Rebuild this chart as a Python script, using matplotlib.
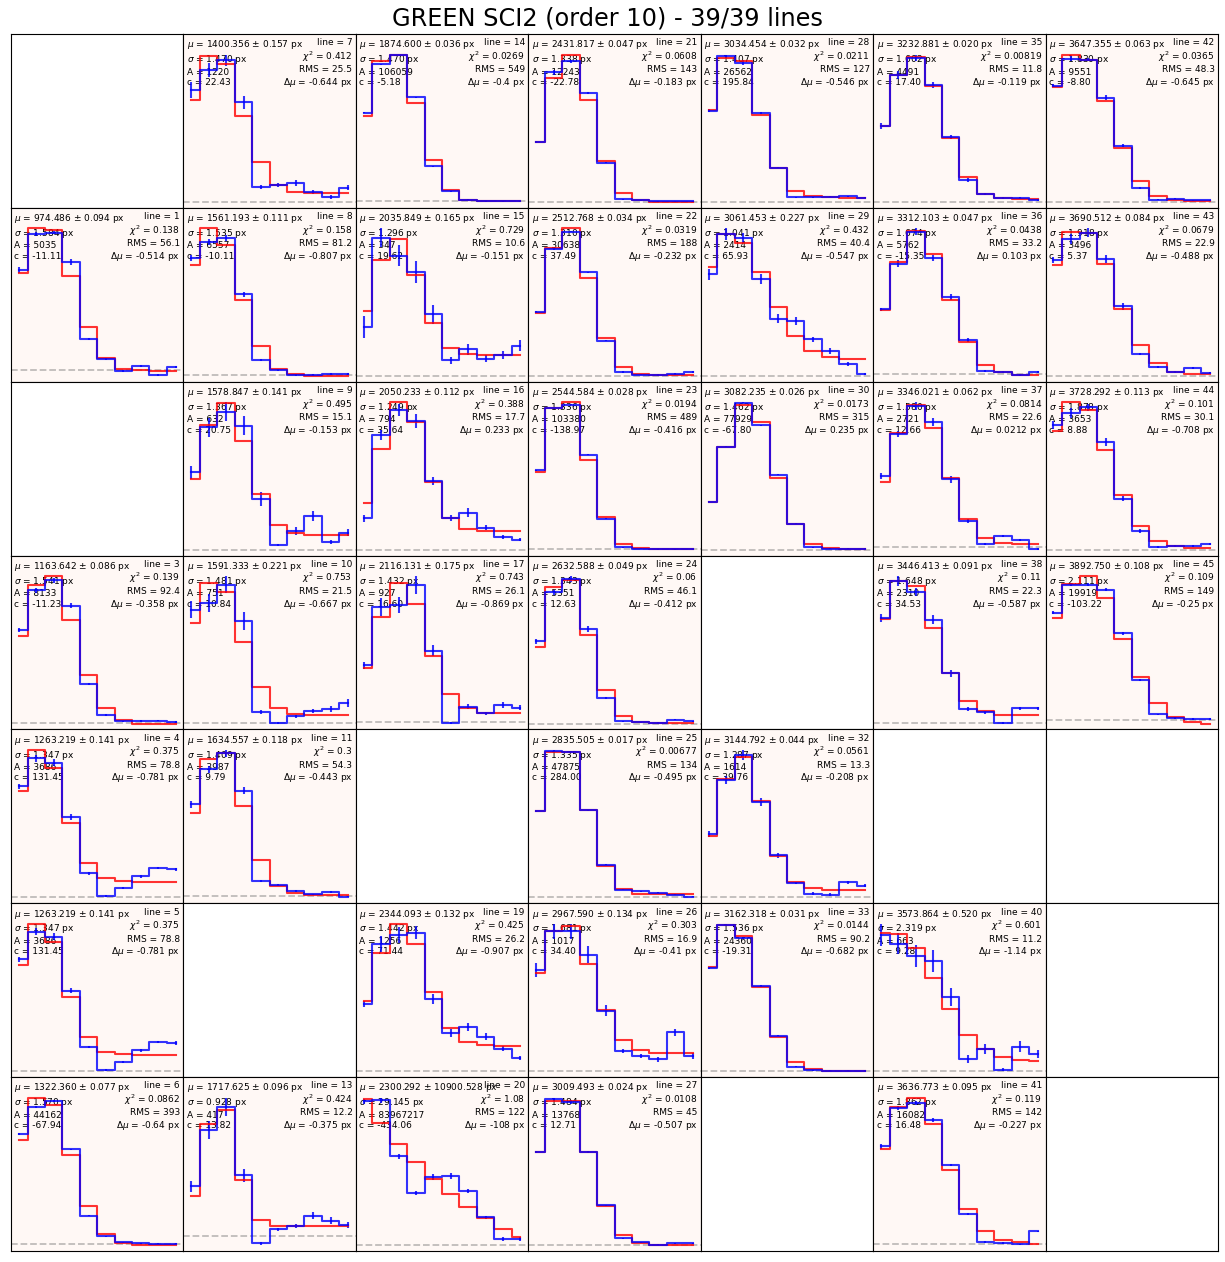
import numpy as np
import matplotlib
matplotlib.use("Agg")
import matplotlib.pyplot as plt

TITLE = "GREEN SCI2 (order 10) - 39/39 lines"
N_GRID = 7

# fitted lines, panel slot = line number (row = n % 7, col = n // 7)
line_ids = [1, 3, 4, 5, 6, 7, 8, 9, 10, 11, 13, 14, 15, 16, 17, 19, 20,
            21, 22, 23, 24, 25, 26, 27, 28, 29, 30, 32, 33, 35, 36, 37, 38,
            40, 41, 42, 43, 44, 45]

mu = [974.486, 1163.642, 1263.219, 1263.219, 1322.360, 1400.356, 1561.193,
      1578.847, 1591.333, 1634.557, 1717.625, 1874.600, 2035.849, 2050.233,
      2116.131, 2344.093, 2300.292, 2431.817, 2512.768, 2544.584, 2632.588,
      2835.505, 2967.590, 3009.493, 3034.454, 3061.453, 3082.235, 3144.792,
      3162.318, 3232.881, 3312.103, 3346.021, 3446.413, 3573.864, 3636.773,
      3647.355, 3690.512, 3728.292, 3892.750]
mu_err = [0.094, 0.086, 0.141, 0.141, 0.077, 0.157, 0.111, 0.141, 0.221, 0.118,
          0.096, 0.036, 0.165, 0.112, 0.175, 0.132, 10900.528, 0.047, 0.034,
          0.028, 0.049, 0.017, 0.134, 0.024, 0.032, 0.227, 0.026, 0.044, 0.031,
          0.020, 0.047, 0.062, 0.091, 0.520, 0.095, 0.063, 0.084, 0.113, 0.108]
sigma = [1.584, 1.541, 1.347, 1.347, 1.570, 1.470, 1.535, 1.367, 1.481, 1.409,
         0.928, 1.470, 1.296, 1.249, 1.432, 1.442, 29.145, 1.338, 1.310, 1.336,
         1.343, 1.335, 1.681, 1.484, 1.407, 1.041, 1.462, 1.287, 1.536, 1.602,
         1.674, 1.580, 1.648, 2.319, 1.862, 1.830, 1.918, 1.878, 2.111]
amp = [5035, 8133, 3686, 3686, 44162, 1220, 6557, 632, 751, 3987, 417, 106059,
       347, 794, 927, 1256, 83967217, 12243, 30638, 103380, 5351, 47875, 1017,
       13768, 26562, 2414, 77929, 1614, 24360, 4491, 5762, 2721, 2310, 663,
       16082, 9551, 3496, 3653, 19919]
cont = [-11.11, -11.23, 131.45, 131.45, -67.94, 22.43, -10.11, 20.75, 10.84,
        9.79, 13.82, -5.18, 19.62, 35.64, 16.60, 71.44, -434.06, -22.78, 37.49,
        -138.97, 12.63, 284.00, 34.40, 12.71, 195.84, 65.93, -67.80, 39.76,
        -19.31, 17.40, -15.35, 12.66, 34.53, 9.28, 16.48, -8.80, 5.37, 8.88,
        -103.22]
chi2 = [0.138, 0.139, 0.375, 0.375, 0.0862, 0.412, 0.158, 0.495, 0.753, 0.3,
        0.424, 0.0269, 0.729, 0.388, 0.743, 0.425, 1.08, 0.0608, 0.0319, 0.0194,
        0.06, 0.00677, 0.303, 0.0108, 0.0211, 0.432, 0.0173, 0.0561, 0.0144,
        0.00819, 0.0438, 0.0814, 0.11, 0.601, 0.119, 0.0365, 0.0679, 0.101, 0.109]
rms = [56.1, 92.4, 78.8, 78.8, 393, 25.5, 81.2, 15.1, 21.5, 54.3, 12.2, 549,
       10.6, 17.7, 26.1, 26.2, 122, 143, 188, 489, 46.1, 134, 16.9, 45, 127,
       40.4, 315, 13.3, 90.2, 11.8, 33.2, 22.6, 22.3, 11.2, 142, 48.3, 22.9,
       30.1, 149]
dmu = [-0.514, -0.358, -0.781, -0.781, -0.64, -0.644, -0.807, -0.153, -0.667,
       -0.443, -0.375, -0.4, -0.151, 0.233, -0.869, -0.907, -108, -0.183, -0.232,
       -0.416, -0.412, -0.495, -0.41, -0.507, -0.546, -0.547, 0.235, -0.208,
       -0.682, -0.119, 0.103, 0.0212, -0.587, -1.14, -0.227, -0.645, -0.488,
       -0.708, -0.25]

# extracted profile (blue), fitted model (red), flux errors -- 10 pixels each
flux = {
    1: [100, 135.7, 137.3, 108.3, 31.7, 11.7, -0.3, 4.3, -4.3, 3.3],
    3: [92, 131.7, 141.7, 116.3, 38.3, 7.3, 1.3, 1.7, 2, 0.7],
    4: [110.7, 138.3, 134, 80, 24, 1, 9, 21, 29.3, 28],
    5: [111.3, 139, 134, 80, 24, 0.7, 9, 20.7, 29, 28],
    6: [109, 135.7, 141.3, 93.7, 28, 7.3, 1.3, 0.7, 0, 0],
    7: [111, 131, 141, 99, 15, 17, 19, 10, 4.7, 14.3],
    8: [116, 131.7, 135.7, 80, 15, 5, 0.3, 0, 1, 1.3],
    9: [78.3, 124, 139.7, 125.7, 51.3, 5, 19, 34, 8, 17.3],
    10: [111.7, 118.3, 136.7, 100.7, 10.7, 0, 6, 11, 13.3, 19.3],
    11: [90, 124.3, 140, 103.3, 14.3, 11, 5, 1.7, 4, -0.7],
    13: [49, 105, 127.7, 60, -7.3, 6.7, 10, 20, 15, 11],
    14: [87.7, 135.7, 144.7, 103, 35, 10, 1.7, 0, 0, 0],
    15: [47.3, 134, 116.7, 100.7, 59.7, 15, 25.7, 16.7, 20, 29],
    16: [30.7, 113, 137.3, 126.7, 67.3, 31.3, 36.3, 21.7, 12.3, 10],
    17: [56.3, 114.7, 117.3, 137.3, 71.3, -1, 15, 8.3, 16.7, 14],
    19: [66.7, 126, 135, 137.3, 71.7, 37.7, 44.3, 34.3, 22.3, 13.3],
    20: [145.7, 146.7, 90, 53, 69, 70, 54.7, 28, 6.3, 6.3],
    21: [58.7, 127.7, 138.7, 107.7, 38.7, 2.7, 1.3, 0.3, 0.3, 0.3],
    22: [64, 126.7, 144, 103.3, 35.3, 4, 1.3, 0.7, 1.7, 4],
    23: [78, 139.3, 142.7, 93.7, 30.3, 2, 0.7, 0.3, 0.3, 0.3],
    24: [81.7, 130.7, 144, 94, 25, 2.3, 1.3, 0.7, 4, 2.3],
    25: [84.7, 145, 144, 85.7, 31.7, 7.3, 5.7, 4, 2.3, 0],
    26: [100, 138.3, 138.3, 115, 60, 20, 15, 11.7, 38.3, 15],
    27: [92, 144.3, 141.7, 92, 39.3, 6.7, 2.7, 0.3, 1.7, 1.7],
    28: [92.7, 148, 141.7, 90.7, 35, 5, 5, 5.3, 6, 4.3],
    29: [101.7, 141.7, 137.7, 97.3, 57.3, 55, 36.7, 25, 12.3, 1.7],
    30: [47.3, 101.7, 145, 123, 74, 25.7, 2.3, 0.7, 0.7, 0.7],
    32: [62.7, 116, 141, 94.3, 41.7, 14.3, 3.7, 2.7, 15, 11.7],
    33: [101.7, 144, 130.7, 84, 35, 4.3, 1, 0.7, 0.7, 0.7],
    35: [76, 126.7, 144.3, 117, 65, 22, 7.7, 4.3, 3.7, 2],
    36: [64, 109, 140.7, 114.7, 76.3, 33.3, 2.3, 1.3, -1, 1.3],
    37: [70.7, 112.3, 140, 124, 67.3, 25.7, 3.3, 10.7, 7.3, -1.7],
    38: [104.7, 141.3, 130.7, 103, 49.7, 14, 10.7, 0.7, 14.7, 14.7],
    40: [134, 125.7, 113.3, 108.3, 73.3, 12.3, 21.7, 1.7, 24.3, 16.7],
    41: [97, 134.7, 140.3, 123.7, 78.7, 30.3, 2, 1, -0.3, 12.7],
    42: [115, 141.7, 140.7, 103, 55.7, 14, 2.3, 3.3, 1.7, 1.7],
    43: [115, 136, 142.3, 116, 69, 21.7, 8.3, 4, 7.3, 2.7],
    44: [125, 137, 142.7, 107.7, 51, 18.7, 2.7, 3.7, 3.7, 6],
    45: [106.7, 134.3, 134.3, 129.3, 86, 40, 5.7, 2.3, 1, 1],
}
model = {
    1: [96.7, 141.3, 139.7, 94, 43, 12.3, 1.7, 0, -1, -1],
    3: [85.7, 137.3, 145.7, 101.7, 47.3, 14, 2.3, -1, -1, -1],
    4: [105.7, 146.7, 129, 74, 34, 19, 16.7, 15.7, 15.7, 15.7],
    5: [105.7, 146.7, 129, 74, 34, 19, 16.7, 15.7, 15.7, 15.7],
    6: [103, 144.7, 138, 88, 37, 9.7, 0.7, -1.3, -1.3, -1.3],
    7: [101, 145, 137, 85, 40, 17, 10, 9.3, 9.3, 9.3],
    8: [109, 145, 128.3, 74.3, 28.3, 5.7, 0.7, -0.7, -0.7, -0.7],
    9: [71.3, 126.3, 148.3, 110, 56.3, 25, 17.3, 15.3, 15.3, 15.3],
    10: [98.3, 138.3, 129.3, 80, 35, 14.3, 8.3, 7.3, 7.3, 7.3],
    11: [81, 135, 140, 88.3, 35.7, 10, 2.7, 1, 1, 1],
    13: [40, 111, 125, 55, 15.7, 10, 10, 10, 10, 10],
    14: [85, 139, 144.7, 97, 41.3, 11, 1.7, 0, 0, 0],
    15: [63, 112.3, 133, 98, 51.3, 27.3, 20.7, 20, 20, 20],
    16: [45.7, 99, 145, 125.7, 66.7, 30.7, 20, 18, 18, 18],
    17: [54, 105, 139, 118.3, 66.3, 28, 13.3, 9, 9, 9],
    19: [69.3, 117.3, 146, 126, 78.3, 43.3, 29.3, 26, 25.3, 25.3],
    20: [148, 124, 103, 84, 67.3, 52.3, 39, 27.3, 16.7, 8],
    21: [59.3, 122.7, 145.3, 100.3, 40.3, 8.7, 1.3, 0, 0, 0],
    22: [63, 127.3, 147.3, 98, 38, 9, 2, 0.7, 0.7, 0.7],
    23: [77, 139.3, 145.3, 88.7, 32, 5.3, 1, 0, 0, 0],
    24: [76.7, 135.7, 143, 88, 33.3, 8, 2, 0.7, 0.7, 0.7],
    25: [84.7, 144, 144, 85.7, 30.7, 8.3, 3.3, 3, 3, 3],
    26: [96.7, 139, 143.3, 106, 60.7, 31, 21, 18, 18, 18],
    27: [92, 142.7, 142.7, 92, 38.7, 10.3, 2, 0.3, 0.3, 0.3],
    28: [93.3, 146.7, 143.3, 88.3, 35, 11.3, 5.7, 5, 4.3, 4.3],
    29: [109, 142.3, 133.3, 104.3, 69, 40, 25, 19, 17.3, 17.3],
    30: [47.3, 101.7, 143, 125.7, 70.7, 25.7, 5.7, 1.3, 0.3, 0.3],
    32: [61, 117.7, 139.3, 96, 41, 15, 9, 7.7, 7.7, 7.7],
    33: [102.3, 144, 133.3, 82.7, 34, 9.3, 2.3, 0.7, 0, 0],
    35: [76, 126.7, 145, 116, 64.3, 25, 7.7, 4.3, 3.3, 2.7],
    36: [63.3, 110.7, 141.3, 119, 73.3, 31.7, 9, 1.3, -1, -1],
    37: [65, 113.3, 141.3, 118, 68.3, 28, 9, 4, 3, 3],
    38: [103.3, 141.3, 136.7, 94.7, 49.7, 21.7, 11.7, 8.3, 7.7, 7.7],
    40: [135.7, 135, 121, 91.7, 61.7, 36, 21.7, 14.3, 11, 10],
    41: [94.7, 136, 145.3, 119.3, 73.7, 34.7, 13, 3.7, 1.7, 0.3],
    42: [113.3, 145.7, 140.7, 99.7, 53, 20.7, 5.7, 2.3, 1.3, 0.7],
    43: [110, 142.7, 142.3, 111, 66, 31, 12.3, 4, 1.7, 1.7],
    44: [118.7, 147.7, 140.3, 100, 55, 23.7, 8.7, 3.7, 2, 1.7],
    45: [101.7, 135, 142.7, 120.7, 80.7, 42.7, 16.7, 3.3, -1.7, -3.3],
}
flux_err = {
    1: [3, 1.7, 1.7, 3, 1, 1, 1, 1, 1, 1],
    3: [1.7, 2.3, 2.7, 2.3, 1, 1, 0.7, 0.7, 0.7, 0.7],
    4: [2.7, 3.3, 3.3, 2.7, 1.3, 1, 1, 1.3, 1.3, 1.7],
    5: [2.7, 3.3, 3.3, 2.7, 1.3, 1, 1, 1.3, 1.3, 1.7],
    6: [1, 1, 1, 0.7, 0.7, 0.5, 0.5, 0.5, 0.5, 0.5],
    7: [8, 7, 5.5, 6.7, 2, 2, 2.7, 2, 2, 2.5],
    8: [3, 3, 3, 2.3, 0.7, 0.7, 0.7, 0.7, 0.7, 0.7],
    9: [6.3, 10, 9.7, 9.7, 6.7, 1, 3.7, 5, 2, 3.3],
    10: [8.3, 8.7, 8.3, 9, 2, 1, 1.7, 2, 2.7, 3.7],
    11: [3.3, 3.3, 3.3, 3.3, 1, 1, 0.7, 0.7, 0.7, 0.7],
    13: [5.7, 8.7, 9, 6.3, 1.7, 1.7, 2.3, 3.3, 3.3, 3.3],
    14: [0.5, 0.5, 0.5, 0.5, 0.5, 0.5, 0.5, 0.5, 0.5, 0.5],
    15: [10.8, 9, 10, 10.5, 9, 3.7, 5.3, 3.7, 4, 5.3],
    16: [3, 5, 5.7, 7.3, 4, 3.3, 4.3, 2.3, 1.7, 1.7],
    17: [3.3, 9, 8.3, 8.7, 5.7, 1, 2.7, 1.7, 2.7, 2.3],
    19: [2.7, 8.3, 8.3, 6.7, 5, 4, 4, 3.3, 2.7, 1.7],
    20: [2.7, 2.7, 2.7, 2.3, 2.7, 2.7, 2, 1.7, 1.7, 1.7],
    21: [1, 2.7, 1.7, 1, 0.7, 0.5, 0.5, 0.5, 0.5, 0.5],
    22: [0.7, 0.7, 0.7, 0.7, 0.7, 0.7, 0.7, 0.7, 0.7, 0.7],
    23: [0.5, 0.5, 0.5, 0.5, 0.5, 0.5, 0.5, 0.5, 0.5, 0.5],
    24: [2.7, 2.7, 2.7, 2.7, 1, 0.7, 0.7, 0.7, 0.7, 0.7],
    25: [0.5, 0.5, 0.5, 0.5, 0.5, 0.5, 0.5, 0.5, 0.5, 0.5],
    26: [6.7, 7.3, 7.3, 8.3, 5, 2.3, 2.3, 2.3, 3.3, 2.7],
    27: [1, 1.7, 1.7, 1, 0.7, 0.5, 0.5, 0.5, 0.5, 0.5],
    28: [1.7, 1.7, 3, 1, 0.7, 0.5, 0.5, 0.5, 0.5, 0.5],
    29: [5.5, 6, 5, 5, 4.3, 4.3, 2.7, 2.7, 2, 1],
    30: [0.5, 0.5, 0.5, 0.5, 0.5, 0.5, 0.5, 0.5, 0.5, 0.5],
    32: [3.3, 4, 5, 4, 2.7, 1.3, 1.3, 1.3, 1.3, 1.3],
    33: [1, 1, 1, 1, 0.7, 0.5, 0.5, 0.5, 0.5, 0.5],
    35: [3.3, 4, 3.3, 2.7, 2, 2, 1, 1, 1, 1],
    36: [1.3, 3.3, 3.3, 3.3, 2.7, 1.7, 1, 1, 1, 1],
    37: [3.3, 3.3, 4, 4, 3.3, 1.7, 1, 1, 1, 1],
    38: [4.3, 5, 4.3, 4.3, 3.3, 1.7, 1.7, 1, 1.7, 1.7],
    40: [11, 10, 10.7, 11, 9, 4, 5, 1.7, 5, 4],
    41: [2.7, 2, 2, 2, 1.3, 1, 0.7, 0.7, 0.7, 0.7],
    42: [1.3, 2.7, 1.7, 2.3, 1.3, 1, 0.7, 0.7, 0.7, 0.7],
    43: [3.3, 5, 4, 4, 3.3, 1, 1, 1, 1, 1],
    44: [4, 5, 3.3, 4, 2.7, 1.7, 1, 1, 1, 1],
    45: [1.7, 1.7, 1.7, 1.7, 1.7, 1, 0.7, 0.7, 0.7, 0.7],
}

PANEL_BG = "#fff8f5"

fig, axes = plt.subplots(N_GRID, N_GRID, figsize=(12.25, 12.62), dpi=100)
fig.subplots_adjust(left=11 / 1225, right=1218 / 1225, bottom=11 / 1262,
                    top=1 - 34 / 1262, wspace=0, hspace=0)
for ax in axes.flat:
    ax.set_xticks([])
    ax.set_yticks([])

for k, ln in enumerate(line_ids):
    ax = axes[ln % N_GRID, ln // N_GRID]
    ax.set_facecolor(PANEL_BG)
    y = np.array(flux[ln])
    m = np.array(model[ln])
    e = np.array(flux_err[ln])
    x = np.arange(len(y))

    ax.axhline(0, color="gray", ls="--", lw=1.3, alpha=0.5)
    ax.errorbar(x, y, yerr=e, color="b", drawstyle="steps-mid", lw=1.5, alpha=0.8)
    ax.step(x, m, where="mid", color="r", lw=1.5, alpha=0.8)

    lo = min(0, (y - e).min(), m.min())
    hi = max((y + e).max(), m.max())
    rng = hi - lo
    ax.set_ylim(lo - 0.04 * rng, hi + 0.14 * rng)

    left_txt = ("$\\mu$ = %.3f ± %.3f px\n$\\sigma$ = %.3f px\nA = %d\nc = %.2f"
                % (mu[k], mu_err[k], sigma[k], amp[k], cont[k]))
    right_txt = ("line = %d\n$\\chi^2$ = %.3g\nRMS = %.3g\n$\\Delta\\mu$ = %.3g px"
                 % (ln, chi2[k], rms[k], dmu[k]))
    ax.text(0.02, 0.975, left_txt, transform=ax.transAxes, ha="left", va="top",
            fontsize=6.5, zorder=1)
    ax.text(0.98, 0.975, right_txt, transform=ax.transAxes, ha="right", va="top",
            fontsize=6.5, zorder=1)

fig.suptitle(TITLE, fontsize=17.3, x=0.496, y=0.995)
fig.savefig("out.png", dpi=100)
